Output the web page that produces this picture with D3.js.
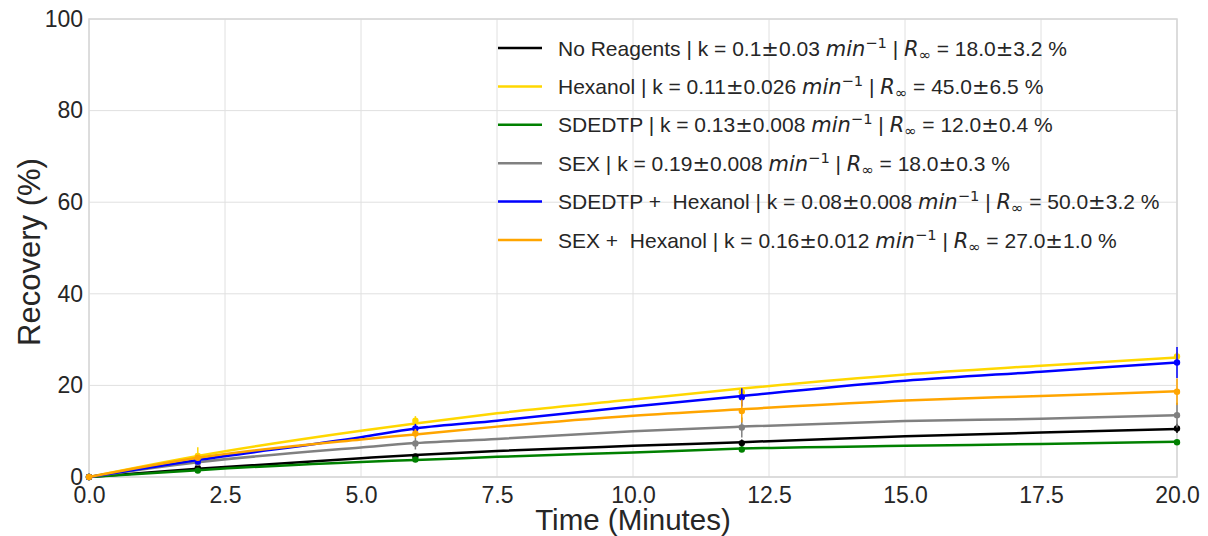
<!DOCTYPE html>
<html>
<head>
<meta charset="utf-8">
<script src="https://cdn.jsdelivr.net/npm/d3@7"></script>
<style>
  html, body { margin: 0; padding: 0; background: #fff; }
  svg { display: block; font-family: "Liberation Sans", Arial, sans-serif; }
  text { white-space: pre; }
</style>
</head>
<body>
<svg id="chart" width="1208" height="536"></svg>
<script>
// ---- data ----
const seriesNames = ["No Reagents", "Hexanol", "SDEDTP", "SEX", "SDEDTP +  Hexanol", "SEX +  Hexanol"];
const seriesColors = ["#000000", "#FFD700", "#008000", "#808080", "#0000FF", "#FFA500"];
const kVals = ["0.1±0.03", "0.11±0.026", "0.13±0.008", "0.19±0.008", "0.08±0.008", "0.16±0.012"];
const rVals = ["18.0±3.2", "45.0±6.5", "12.0±0.4", "18.0±0.3", "50.0±3.2", "27.0±1.0"];

// fitted curve
const curveTimes = [0, 2, 5, 6, 7.5, 10, 12, 15, 17.5, 20];
const curveNoReagents = [0, 1.8, 4.1, 4.8, 5.7, 6.8, 7.6, 8.9, 9.7, 10.5];
const curveHexanol    = [0, 4.6, 10.1, 11.7, 13.9, 16.9, 19.3, 22.4, 24.3, 26.1];
const curveSDEDTP     = [0, 1.5, 3.3, 3.7, 4.4, 5.35, 6.2, 6.8, 7.2, 7.7];
const curveSEX        = [0, 3.2, 6.45, 7.4, 8.3, 10.0, 11.0, 12.2, 12.7, 13.5];
const curveSDEDTPHex  = [0, 3.7, 8.7, 10.6, 12.3, 15.4, 17.7, 21.0, 23.0, 25.0];
const curveSEXHex     = [0, 4.2, 8.2, 9.3, 11.0, 13.4, 14.8, 16.7, 17.7, 18.7];

// measured points
const dataTimes = [0, 2, 6, 12, 20];
const dataNoReagents = [0, 2.0, 4.5, 7.4, 10.6];
const dataHexanol    = [0, 4.6, 12.3, 18.5, 26.3];
const dataSDEDTP     = [0, 1.4, 3.8, 6.0, 7.6];
const dataSEX        = [0, 3.1, 7.3, 10.8, 13.5];
const dataSDEDTPHex  = [0, 3.4, 10.6, 17.4, 25.0];
const dataSEXHex     = [0, 4.2, 9.5, 14.4, 18.6];
const errNoReagents = [0, 0.3, 0.5, 0.8, 1.0];
const errHexanol    = [0, 1.9, 1.0, 1.0, 1.0];
const errSDEDTP     = [0, 0.3, 0.3, 0.4, 0.4];
const errSEX        = [0, 0.5, 1.3, 2.2, 2.7];
const errSDEDTPHex  = [0, 0.5, 1.0, 2.0, 3.4];
const errSEXHex     = [0, 0.5, 1.0, 2.5, 2.9];

const xTicks = [0, 2.5, 5, 7.5, 10, 12.5, 15, 17.5, 20];
const yTicks = [0, 20, 40, 60, 80, 100];

const curves = [curveNoReagents, curveHexanol, curveSDEDTP, curveSEX, curveSDEDTPHex, curveSEXHex];
const points = [dataNoReagents, dataHexanol, dataSDEDTP, dataSEX, dataSDEDTPHex, dataSEXHex];
const errs = [errNoReagents, errHexanol, errSDEDTP, errSEX, errSDEDTPHex, errSEXHex];

// ---- layout ----
const svg = d3.select("#chart");
const L = 89, R = 1177, T = 19, B = 477;
const x = d3.scaleLinear().domain([0, 20]).range([L, R]);
const y = d3.scaleLinear().domain([0, 100]).range([B, T]);
const gridColor = "#e0e0e0";
const textColor = "#262626";
const mathFont = "'DejaVu Sans', sans-serif";

// grid
svg.append("g").selectAll("line").data(xTicks).join("line")
  .attr("x1", d => x(d)).attr("x2", d => x(d)).attr("y1", T).attr("y2", B)
  .attr("stroke", gridColor).attr("stroke-width", 1);
svg.append("g").selectAll("line").data(yTicks).join("line")
  .attr("y1", d => y(d)).attr("y2", d => y(d)).attr("x1", L).attr("x2", R)
  .attr("stroke", gridColor).attr("stroke-width", 1);

// axes
const xAxis = svg.append("g").attr("transform", `translate(0,${B})`)
  .call(d3.axisBottom(x).tickValues(xTicks).tickFormat(d3.format(".1f")).tickSize(0).tickPadding(6));
const yAxis = svg.append("g").attr("transform", `translate(${L},0)`)
  .call(d3.axisLeft(y).tickValues(yTicks).tickFormat(d3.format("d")).tickSize(0).tickPadding(6));
[xAxis, yAxis].forEach(a => {
  a.select(".domain").remove();
  a.selectAll("text").attr("font-size", 23).attr("fill", textColor)
    .attr("font-family", "'Liberation Sans', Arial, sans-serif");
});
xAxis.selectAll("text").attr("dy", "0.85em");

// frame (spines)
svg.append("rect").attr("x", L).attr("y", T).attr("width", R - L).attr("height", B - T)
  .attr("fill", "none").attr("stroke", "#d6d6d6").attr("stroke-width", 1.5);

// axis labels
svg.append("text").attr("x", (L + R) / 2).attr("y", 530).attr("text-anchor", "middle")
  .attr("font-size", 29.5).attr("fill", textColor).text("Time (Minutes)");
svg.append("text").attr("transform", `translate(29,${(T + B) / 2 + 4}) rotate(-90)`)
  .attr("text-anchor", "middle").attr("dy", "0.35em")
  .attr("font-size", 31).attr("fill", textColor).text("Recovery (%)");

// curves + error bars + markers
const plot = svg.append("g");
const line = d3.line().x(d => x(d[0])).y(d => y(d[1])).curve(d3.curveMonotoneX);
seriesNames.forEach((name, i) => {
  const g = plot.append("g");
  const pts = dataTimes.map((t, j) => ({ t, v: points[i][j], e: errs[i][j] }));
  g.selectAll("line.err").data(pts).join("line").attr("class", "err")
    .attr("x1", d => x(d.t)).attr("x2", d => x(d.t))
    .attr("y1", d => y(d.v - d.e)).attr("y2", d => y(d.v + d.e))
    .attr("stroke", seriesColors[i]).attr("stroke-width", 1.5);
  g.selectAll("circle").data(pts).join("circle")
    .attr("cx", d => x(d.t)).attr("cy", d => y(d.v)).attr("r", 3.2)
    .attr("fill", seriesColors[i]);
  g.append("path").datum(curveTimes.map((t, j) => [t, curves[i][j]]))
    .attr("d", line).attr("fill", "none")
    .attr("stroke", seriesColors[i]).attr("stroke-width", 2.5);
});

// legend
const leg = svg.append("g");
const legX0 = 498, legX1 = 542, legTextX = 558, legY0 = 48, legStep = 38.4;
function pm(t, s) {
  const [a, b] = s.split("±");
  t.append("tspan").text(a);
  t.append("tspan").attr("font-family", mathFont).text("±");
  t.append("tspan").text(b);
}
seriesNames.forEach((name, i) => {
  const yy = legY0 + i * legStep;
  leg.append("line").attr("x1", legX0).attr("x2", legX1).attr("y1", yy).attr("y2", yy)
    .attr("stroke", seriesColors[i]).attr("stroke-width", 2.5);
  const t = leg.append("text").attr("x", legTextX).attr("y", yy).attr("dy", "0.36em")
    .attr("font-size", 21).attr("fill", textColor);
  t.append("tspan").text(`${name} | k = `);
  pm(t, kVals[i]);
  t.append("tspan").text(" ");
  t.append("tspan").attr("font-family", mathFont).attr("font-style", "italic").text("min");
  t.append("tspan").attr("font-family", mathFont).attr("font-size", 14.7).attr("dy", -8).text("−1");
  t.append("tspan").attr("dy", 8).text(" | ");
  t.append("tspan").attr("font-family", mathFont).attr("font-style", "italic").text("R");
  t.append("tspan").attr("font-family", mathFont).attr("font-size", 14.7).attr("dy", 4).text("∞");
  t.append("tspan").attr("dy", -4).text(" = ");
  pm(t, rVals[i]);
  t.append("tspan").text(" %");
});
</script>
</body>
</html>
